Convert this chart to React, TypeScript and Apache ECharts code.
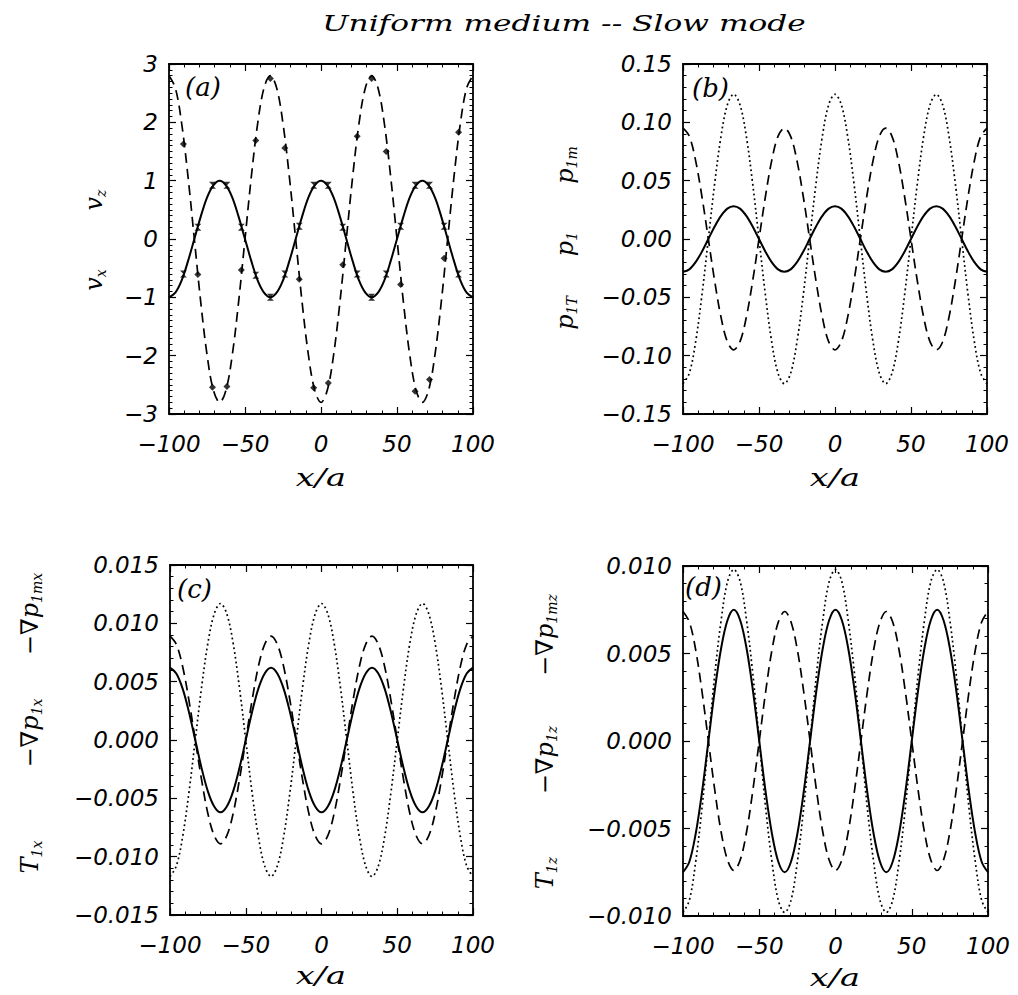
import React, { useEffect, useRef } from 'react';
import * as echarts from 'echarts';

// ---------- data ----------
const xs = [
  -100, -95.83, -91.67, -87.5, -83.33, -79.17, -75, -70.83,
  -66.67, -62.5, -58.33, -54.17, -50, -45.83, -41.67, -37.5,
  -33.33, -29.17, -25, -20.83, -16.67, -12.5, -8.33, -4.17,
  0, 4.17, 8.33, 12.5, 16.67, 20.83, 25, 29.17,
  33.33, 37.5, 41.67, 45.83, 50, 54.17, 58.33, 62.5,
  66.67, 70.83, 75, 79.17, 83.33, 87.5, 91.67, 95.83,
  100,
];

// panel (a)
const aSolid = [
  -1, -0.92, -0.71, -0.38, 0, 0.38, 0.71, 0.92,
  1, 0.92, 0.71, 0.38, 0, -0.38, -0.71, -0.92,
  -1, -0.92, -0.71, -0.38, 0, 0.38, 0.71, 0.92,
  1, 0.92, 0.71, 0.38, 0, -0.38, -0.71, -0.92,
  -1, -0.92, -0.71, -0.38, 0, 0.38, 0.71, 0.92,
  1, 0.92, 0.71, 0.38, 0, -0.38, -0.71, -0.92,
  -1,
];
const aDashed = [
  2.8, 2.59, 1.98, 1.07, 0, -1.07, -1.98, -2.59,
  -2.8, -2.59, -1.98, -1.07, 0, 1.07, 1.98, 2.59,
  2.8, 2.59, 1.98, 1.07, 0, -1.07, -1.98, -2.59,
  -2.8, -2.59, -1.98, -1.07, 0, 1.07, 1.98, 2.59,
  2.8, 2.59, 1.98, 1.07, 0, -1.07, -1.98, -2.59,
  -2.8, -2.59, -1.98, -1.07, 0, 1.07, 1.98, 2.59,
  2.8,
];
const aMarkX = [
  -90.5, -81, -71.4, -61.9, -52.4, -42.9, -33.3, -23.8, -14.3, -4.8,
  4.8, 14.3, 23.8, 33.3, 42.9, 52.4, 61.9, 71.4, 81, 90.5,
];
const aSolidMarks = [
  -0.6, 0.2, 0.92, 0.92, 0.2, -0.62, -1, -0.6, 0.22, 0.92,
  0.92, 0.2, -0.6, -1, -0.6, 0.22, 0.92, 0.92, 0.22, -0.6,
];
const aDashedMarks = [
  1.63, -0.61, -2.54, -2.53, -0.53, 1.69, 2.75, 1.56, -0.69, -2.55,
  -2.47, -0.44, 1.76, 2.75, 1.5, -0.78, -2.61, -2.41, -0.33, 1.83,
];

// panel (b)
const bSolid = [
  -0.028, -0.026, -0.0198, -0.0107, 0, 0.0107, 0.0198, 0.026,
  0.028, 0.026, 0.0198, 0.0107, 0, -0.0107, -0.0198, -0.026,
  -0.028, -0.026, -0.0198, -0.0107, 0, 0.0107, 0.0198, 0.026,
  0.028, 0.026, 0.0198, 0.0107, 0, -0.0107, -0.0198, -0.026,
  -0.028, -0.026, -0.0198, -0.0107, 0, 0.0107, 0.0198, 0.026,
  0.028, 0.026, 0.0198, 0.0107, 0, -0.0107, -0.0198, -0.026,
  -0.028,
];
const bDotted = [
  -0.124, -0.115, -0.088, -0.0475, 0, 0.0475, 0.088, 0.115,
  0.124, 0.115, 0.088, 0.0475, 0, -0.0475, -0.088, -0.115,
  -0.124, -0.115, -0.088, -0.0475, 0, 0.0475, 0.088, 0.115,
  0.124, 0.115, 0.088, 0.0475, 0, -0.0475, -0.088, -0.115,
  -0.124, -0.115, -0.088, -0.0475, 0, 0.0475, 0.088, 0.115,
  0.124, 0.115, 0.088, 0.0475, 0, -0.0475, -0.088, -0.115,
  -0.124,
];
const bDashed = [
  0.095, 0.088, 0.067, 0.036, 0, -0.036, -0.067, -0.088,
  -0.095, -0.088, -0.067, -0.036, 0, 0.036, 0.067, 0.088,
  0.095, 0.088, 0.067, 0.036, 0, -0.036, -0.067, -0.088,
  -0.095, -0.088, -0.067, -0.036, 0, 0.036, 0.067, 0.088,
  0.095, 0.088, 0.067, 0.036, 0, -0.036, -0.067, -0.088,
  -0.095, -0.088, -0.067, -0.036, 0, 0.036, 0.067, 0.088,
  0.095,
];

// panel (c)
const cSolid = [
  0.0062, 0.0057, 0.0044, 0.0024, 0, -0.0024, -0.0044, -0.0057,
  -0.0062, -0.0057, -0.0044, -0.0024, 0, 0.0024, 0.0044, 0.0057,
  0.0062, 0.0057, 0.0044, 0.0024, 0, -0.0024, -0.0044, -0.0057,
  -0.0062, -0.0057, -0.0044, -0.0024, 0, 0.0024, 0.0044, 0.0057,
  0.0062, 0.0057, 0.0044, 0.0024, 0, -0.0024, -0.0044, -0.0057,
  -0.0062, -0.0057, -0.0044, -0.0024, 0, 0.0024, 0.0044, 0.0057,
  0.0062,
];
const cDashed = [
  0.0089, 0.0082, 0.0063, 0.0034, 0, -0.0034, -0.0063, -0.0082,
  -0.0089, -0.0082, -0.0063, -0.0034, 0, 0.0034, 0.0063, 0.0082,
  0.0089, 0.0082, 0.0063, 0.0034, 0, -0.0034, -0.0063, -0.0082,
  -0.0089, -0.0082, -0.0063, -0.0034, 0, 0.0034, 0.0063, 0.0082,
  0.0089, 0.0082, 0.0063, 0.0034, 0, -0.0034, -0.0063, -0.0082,
  -0.0089, -0.0082, -0.0063, -0.0034, 0, 0.0034, 0.0063, 0.0082,
  0.0089,
];
const cDotted = [
  -0.0117, -0.0108, -0.0083, -0.0045, 0, 0.0045, 0.0083, 0.0108,
  0.0117, 0.0108, 0.0083, 0.0045, 0, -0.0045, -0.0083, -0.0108,
  -0.0117, -0.0108, -0.0083, -0.0045, 0, 0.0045, 0.0083, 0.0108,
  0.0117, 0.0108, 0.0083, 0.0045, 0, -0.0045, -0.0083, -0.0108,
  -0.0117, -0.0108, -0.0083, -0.0045, 0, 0.0045, 0.0083, 0.0108,
  0.0117, 0.0108, 0.0083, 0.0045, 0, -0.0045, -0.0083, -0.0108,
  -0.0117,
];

// panel (d)
const dSolid = [
  -0.0075, -0.0069, -0.0053, -0.0029, 0, 0.0029, 0.0053, 0.0069,
  0.0075, 0.0069, 0.0053, 0.0029, 0, -0.0029, -0.0053, -0.0069,
  -0.0075, -0.0069, -0.0053, -0.0029, 0, 0.0029, 0.0053, 0.0069,
  0.0075, 0.0069, 0.0053, 0.0029, 0, -0.0029, -0.0053, -0.0069,
  -0.0075, -0.0069, -0.0053, -0.0029, 0, 0.0029, 0.0053, 0.0069,
  0.0075, 0.0069, 0.0053, 0.0029, 0, -0.0029, -0.0053, -0.0069,
  -0.0075,
];
const dDotted = [
  -0.0098, -0.0091, -0.0069, -0.0038, 0, 0.0038, 0.0069, 0.0091,
  0.0098, 0.0091, 0.0069, 0.0038, 0, -0.0038, -0.0069, -0.0091,
  -0.0098, -0.0091, -0.0069, -0.0038, 0, 0.0038, 0.0069, 0.0091,
  0.0098, 0.0091, 0.0069, 0.0038, 0, -0.0038, -0.0069, -0.0091,
  -0.0098, -0.0091, -0.0069, -0.0038, 0, 0.0038, 0.0069, 0.0091,
  0.0098, 0.0091, 0.0069, 0.0038, 0, -0.0038, -0.0069, -0.0091,
  -0.0098,
];
const dDashed = [
  0.0074, 0.0068, 0.0052, 0.0028, 0, -0.0028, -0.0052, -0.0068,
  -0.0074, -0.0068, -0.0052, -0.0028, 0, 0.0028, 0.0052, 0.0068,
  0.0074, 0.0068, 0.0052, 0.0028, 0, -0.0028, -0.0052, -0.0068,
  -0.0074, -0.0068, -0.0052, -0.0028, 0, 0.0028, 0.0052, 0.0068,
  0.0074, 0.0068, 0.0052, 0.0028, 0, -0.0028, -0.0052, -0.0068,
  -0.0074, -0.0068, -0.0052, -0.0028, 0, 0.0028, 0.0052, 0.0068,
  0.0074,
];

// tick labels
const xTicks = [-100, -50, 0, 50, 100];
const aYTicks = [-3, -2, -1, 0, 1, 2, 3];
const bYTicks = [-0.15, -0.1, -0.05, 0, 0.05, 0.1, 0.15];
const cYTicks = [-0.015, -0.01, -0.005, 0, 0.005, 0.01, 0.015];
const dYTicks = [-0.01, -0.005, 0, 0.005, 0.01];

const titleText = 'Uniform medium -- Slow mode';
const panelLetters = ['(a)', '(b)', '(c)', '(d)'];
const xName = 'x/a';

// ---------- layout / style ----------
const GRIDS = [
  { left: 169, top: 64, width: 304, height: 350 },
  { left: 683, top: 64, width: 304, height: 350 },
  { left: 170, top: 565, width: 303, height: 350 },
  { left: 683, top: 566, width: 305, height: 350 },
];
const DASH = [10, 6];
const DOT = [1.8, 3];
const TICK_FONT = 'DejaVu Sans';
const SERIF = 'DejaVu Serif';

function zip(x: number[], y: number[]) {
  return x.map((v, i) => [v, y[i]]);
}

function fmt(dec: number) {
  return (v: number) => {
    const s = (Math.abs(v) < 1e-12 ? 0 : v).toFixed(dec);
    return s.replace('-', '\u2212');
  };
}

function yName(x: number, y: number, parts: [string, string][]) {
  const text = parts.map(([t, k]) => `{${k}|${t}}`).join('');
  return {
    type: 'text',
    x,
    y,
    rotation: Math.PI / 2,
    silent: true,
    style: {
      text,
      align: 'center',
      verticalAlign: 'middle',
      rich: {
        b: { fontSize: 24, fontFamily: SERIF, fontStyle: 'italic', fill: '#000' },
        s: { fontSize: 14, fontFamily: SERIF, fontStyle: 'italic', fill: '#000', padding: [13, 0, 0, 0] },
      },
    },
  };
}

function buildOption() {
  const panels = [
    { ticks: aYTicks, dec: 0, minor: 10, lines: [[aSolid, 'solid'], [aDashed, DASH]] },
    { ticks: bYTicks, dec: 2, minor: 5, lines: [[bSolid, 'solid'], [bDotted, DOT], [bDashed, DASH]] },
    { ticks: cYTicks, dec: 3, minor: 5, lines: [[cSolid, 'solid'], [cDashed, DASH], [cDotted, DOT]] },
    { ticks: dYTicks, dec: 3, minor: 5, lines: [[dSolid, 'solid'], [dDotted, DOT], [dDashed, DASH]] },
  ] as any[];

  const axisLine = { show: true, onZero: false, lineStyle: { color: '#000', width: 1.8 } };
  const axisTick = { show: true, inside: true, length: 7, lineStyle: { color: '#000', width: 1.2 } };
  const xInterval = xTicks[1] - xTicks[0];

  const grid: any[] = [];
  const xAxis: any[] = [];
  const yAxis: any[] = [];
  const series: any[] = [];

  panels.forEach((p, g) => {
    grid.push({ ...GRIDS[g], containLabel: false });
    const yMin = p.ticks[0];
    const yMax = p.ticks[p.ticks.length - 1];
    const yInt = Number((p.ticks[1] - p.ticks[0]).toFixed(6));
    ['bottom', 'top'].forEach((pos) => {
      xAxis.push({
        type: 'value',
        gridIndex: g,
        position: pos,
        min: xTicks[0],
        max: xTicks[xTicks.length - 1],
        interval: xInterval,
        axisLine,
        axisTick,
        minorTick: { show: true, splitNumber: 5, length: 3.5, lineStyle: { color: '#000', width: 1 } },
        splitLine: { show: false },
        minorSplitLine: { show: false },
        axisLabel: {
          show: pos === 'bottom',
          margin: 18,
          fontSize: 23,
          fontFamily: TICK_FONT,
          fontStyle: 'italic',
          color: '#000',
          formatter: fmt(0),
        },
      });
    });
    ['left', 'right'].forEach((pos) => {
      yAxis.push({
        type: 'value',
        gridIndex: g,
        position: pos,
        min: yMin,
        max: yMax,
        interval: yInt,
        axisLine,
        axisTick,
        minorTick: { show: true, splitNumber: p.minor, length: 3.5, lineStyle: { color: '#000', width: 1 } },
        splitLine: { show: false },
        minorSplitLine: { show: false },
        axisLabel: {
          show: pos === 'left',
          margin: 11,
          fontSize: 23,
          fontFamily: TICK_FONT,
          fontStyle: 'italic',
          color: '#000',
          formatter: fmt(p.dec),
        },
      });
    });
    p.lines.forEach(([ys, type]: any) => {
      series.push({
        type: 'line',
        xAxisIndex: 2 * g,
        yAxisIndex: 2 * g,
        data: zip(xs, ys),
        showSymbol: false,
        smooth: 0.35,
        silent: true,
        lineStyle: { color: '#000', width: type === 'solid' ? 2 : 1.7, type },
      });
    });
  });

  // markers of panel (a)
  series.push({
    type: 'scatter',
    xAxisIndex: 0,
    yAxisIndex: 0,
    data: zip(aMarkX, aSolidMarks),
    symbol: 'path://M0,0L10,0L0,10L10,10Z',
    symbolSize: 7,
    silent: true,
    itemStyle: { color: '#000' },
  });
  series.push({
    type: 'scatter',
    xAxisIndex: 0,
    yAxisIndex: 0,
    data: zip(aMarkX, aDashedMarks),
    symbol: 'diamond',
    symbolSize: 7,
    silent: true,
    itemStyle: { color: '#000' },
  });

  const serifText = (text: string, x: number, y: number, size: number, align: string, scaleX = 1) => ({
    type: 'text',
    x,
    y,
    scaleX,
    silent: true,
    style: {
      text,
      fontSize: size,
      fontFamily: SERIF,
      fontStyle: 'italic',
      fill: '#000',
      align,
      verticalAlign: 'middle',
    },
  });

  const graphic: any[] = [
    serifText(titleText, 564, 23, 22, 'center', 1.42),
    serifText(panelLetters[0], 185, 87, 26, 'left'),
    serifText(panelLetters[1], 692, 88, 26, 'left'),
    serifText(panelLetters[2], 177, 589, 26, 'left'),
    serifText(panelLetters[3], 685, 587, 26, 'left'),
    serifText(xName, 321, 478, 24, 'center', 1.4),
    serifText(xName, 835, 478, 24, 'center', 1.4),
    serifText(xName, 321, 976, 24, 'center', 1.4),
    serifText(xName, 835, 978, 24, 'center', 1.4),
    yName(94, 200, [['v', 'b'], ['z', 's']]),
    yName(94, 280, [['v', 'b'], ['x', 's']]),
    yName(565, 165, [['p', 'b'], ['1m', 's']]),
    yName(565, 244, [['p', 'b'], ['1', 's']]),
    yName(565, 313, [['p', 'b'], ['1T', 's']]),
    yName(30, 614, [['\u2212\u2207p', 'b'], ['1mx', 's']]),
    yName(30, 733, [['\u2212\u2207p', 'b'], ['1x', 's']]),
    yName(30, 857, [['T', 'b'], ['1x', 's']]),
    yName(545, 635, [['\u2212\u2207p', 'b'], ['1mz', 's']]),
    yName(545, 760, [['\u2212\u2207p', 'b'], ['1z', 's']]),
    yName(545, 873, [['T', 'b'], ['1z', 's']]),
  ];

  return {
    animation: false,
    backgroundColor: '#fff',
    grid,
    xAxis,
    yAxis,
    series,
    graphic,
  };
}

export default function App() {
  const ref = useRef<HTMLDivElement>(null);
  useEffect(() => {
    if (!ref.current) return;
    const chart = echarts.init(ref.current, undefined, { renderer: 'svg' });
    chart.setOption(buildOption() as any);
    return () => chart.dispose();
  }, []);
  return (
    <div
      ref={ref}
      style={{ position: 'absolute', left: 0, top: 0, width: 1018, height: 995, background: '#fff' }}
    />
  );
}
